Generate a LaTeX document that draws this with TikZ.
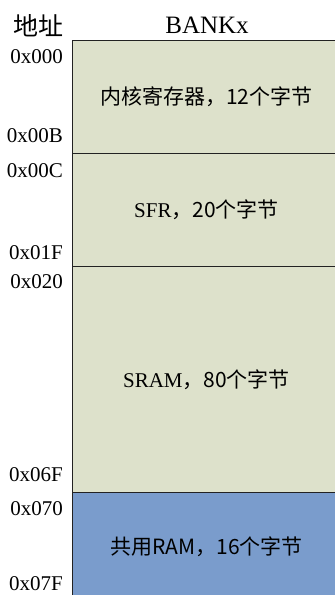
\documentclass[tikz,border=0pt]{standalone}
\usepackage{fontspec}
\setmainfont{Liberation Serif}
\newfontfamily\cjk{Noto Sans CJK SC}
\definecolor{cellgreen}{HTML}{DDE1CB}
\definecolor{cellblue}{HTML}{7A9CCC}
\definecolor{edgegray}{HTML}{222222}
\begin{document}
\begin{tikzpicture}[x=1pt,y=-1pt,
  cell/.style={draw=edgegray,line width=1pt,anchor=north west,minimum width=268pt,inner sep=0pt,font=\fontsize{21}{25}\selectfont},
  addr/.style={anchor=base east,inner sep=0pt,font=\fontsize{21}{25}\selectfont},
  head/.style={inner sep=0pt,font=\fontsize{25}{30}\selectfont}]
\useasboundingbox (0,0) rectangle (335,595);
\node[cell,fill=cellgreen,minimum height=113pt] (core) at (72,40) {\cjk{内核寄存器，}12\cjk{个字节}};
\node[cell,fill=cellgreen,minimum height=113pt] (sfr) at (72,153) {SFR\cjk{，}20\cjk{个字节}};
\node[cell,fill=cellgreen,minimum height=226pt] (sram) at (72,266) {SRAM\cjk{，}80\cjk{个字节}};
\node[cell,fill=cellblue,minimum height=108pt] (common) at (72,492) {\cjk{共用}RAM\cjk{，}16\cjk{个字节}};
\node[head,anchor=base] (bank) at (207,33) {BANKx};
\node[head] (addrhead) at (38,25.5) {\cjk{地址}};
\node[addr] (a000) at (63,63) {0x000};
\node[addr] (a00B) at (63,142) {0x00B};
\node[addr] (a00C) at (63,177) {0x00C};
\node[addr] (a01F) at (63,259) {0x01F};
\node[addr] (a020) at (63,288) {0x020};
\node[addr] (a06F) at (63,481) {0x06F};
\node[addr] (a070) at (63,515) {0x070};
\node[addr] (a07F) at (63,590) {0x07F};
\end{tikzpicture}
\end{document}
